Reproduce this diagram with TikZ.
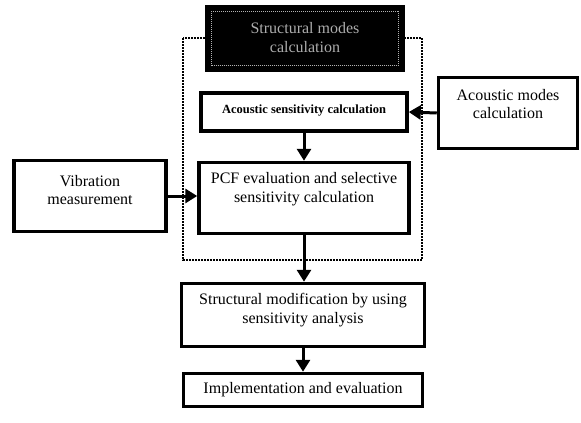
\documentclass[tikz,border=0pt]{standalone}
\usepackage{fontspec}
\setmainfont{Liberation Serif}
\usetikzlibrary{arrows.meta}

\begin{document}
\begin{tikzpicture}[
    x=1pt, y=-1pt,
    box/.style={draw, line width=3.5pt, inner sep=0pt},
    lbl/.style={font=\fontsize{16}{18.5}\selectfont, align=center},
    arr/.style={line width=3pt, -{Triangle[length=12pt,width=14pt]}}
]
\useasboundingbox (0, 0) rectangle (581, 423);

% dotted frame round the sensitivity part
\draw[line width=2.2pt, dash pattern=on 1.6pt off 1.4pt] (183, 38) rectangle (422, 260);

% top black box
\node[box, fill=black, minimum width=196, minimum height=63,
    label={[lbl, text=gray!65, yshift=1pt]center:{Structural modes\\calculation}}] (smc) at (305, 38.5) {};
\draw[gray!60, line width=1pt, dash pattern=on 1pt off 1pt]
    ([shift={(6,-6)}]smc.south west) rectangle ([shift={(-6,6)}]smc.north east);

\node[box, minimum width=206, minimum height=38,
    label={[font=\bfseries\fontsize{12.5}{14}\selectfont, yshift=1pt]center:{Acoustic sensitivity calculation}}] (acs) at (304, 112) {};
\node[box, minimum width=139, minimum height=71,
    label={[lbl, yshift=9pt]center:{Acoustic modes\\calculation}}] (acm) at (508, 113) {};
\node[box, minimum width=210, minimum height=71,
    label={[lbl, yshift=9pt]center:{PCF evaluation and selective\\sensitivity calculation}}] (pcf) at (304, 198) {};
\node[box, minimum width=152, minimum height=71,
    label={[lbl, yshift=6pt]center:{Vibration\\measurement}}] (vib) at (90, 196) {};
\node[box, minimum width=243, minimum height=63,
    label={[lbl, yshift=5pt]center:{Structural modification by using\\sensitivity analysis}}] (smod) at (303, 315) {};
\node[box, minimum width=239, minimum height=33,
    label={[lbl]center:{Implementation and evaluation}}] (impl) at (303, 390) {};

\draw[arr] (acm.west) -- (acs.east);
\draw[arr] (acs.south) -- (pcf.north);
\draw[arr] (vib.east) -- (vib.east -| pcf.west);
\draw[arr] (pcf.south) -- (pcf.south |- smod.north);
\draw[arr] (smod.south) -- (impl.north);

\end{tikzpicture}
\end{document}
